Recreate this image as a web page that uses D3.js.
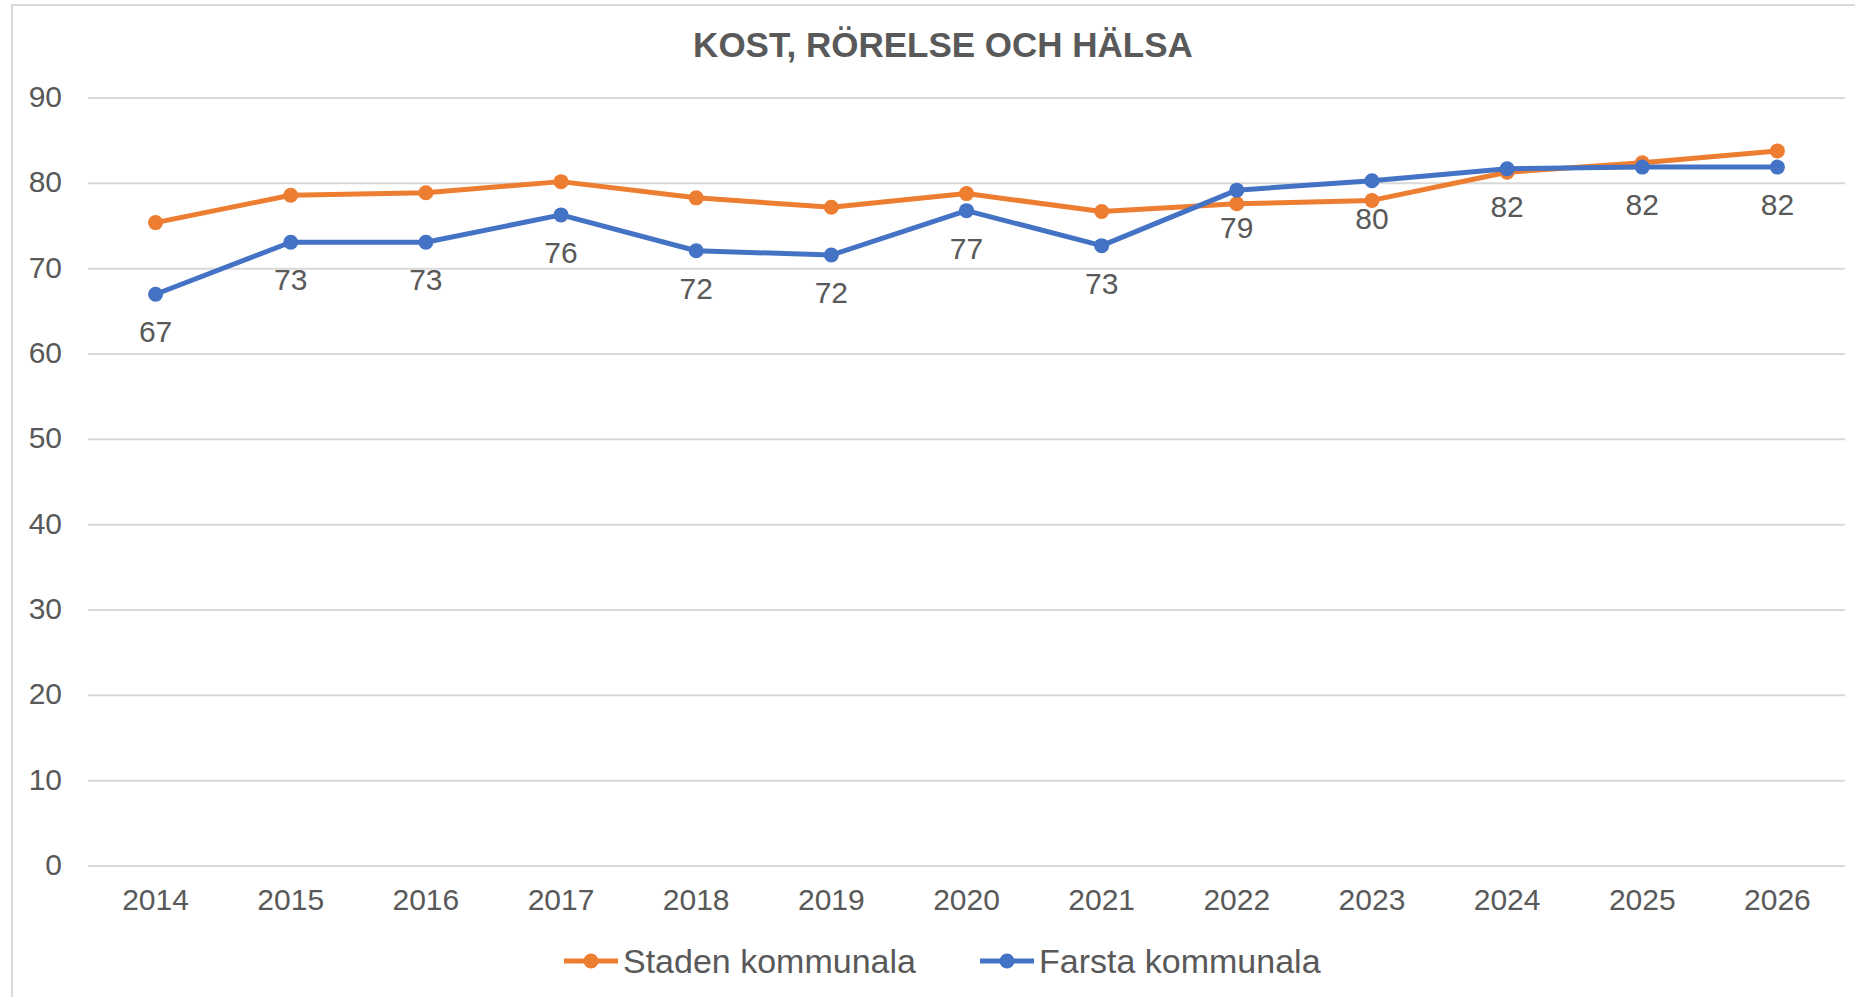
<!DOCTYPE html>
<html>
<head>
<meta charset="utf-8">
<script src="https://cdn.jsdelivr.net/npm/d3@7"></script>
<style>
  body { margin: 0; background: #fff; }
  text { font-family: "Liberation Sans", Arial, sans-serif; fill: #595959; }
</style>
</head>
<body>
<script>
// chart data
var years = ["2014", "2015", "2016", "2017", "2018", "2019", "2020", "2021", "2022", "2023", "2024", "2025", "2026"];
var staden = [75.4, 78.6, 78.9, 80.2, 78.3, 77.2, 78.8, 76.7, 77.6, 78.0, 81.3, 82.4, 83.8];
var farsta = [67.0, 73.1, 73.1, 76.3, 72.1, 71.6, 76.8, 72.7, 79.2, 80.3, 81.7, 81.9, 81.9];
var farstaLabels = ["67", "73", "73", "76", "72", "72", "77", "73", "79", "80", "82", "82", "82"];
var yTicks = [0, 10, 20, 30, 40, 50, 60, 70, 80, 90];
var seriesNames = ["Staden kommunala", "Farsta kommunala"];
var colors = ["#ED7D31", "#4472C4"];

var W = 1855, H = 997;

var svg = d3.select("body").append("svg")
  .attr("width", W)
  .attr("height", H)

// outer chart border
svg.append("rect")
  .attr("x", 12).attr("y", 5)
  .attr("width", W + 20).attr("height", H + 20)
  .attr("fill", "#fff")
  .attr("stroke", "#D9D9D9")
  .attr("stroke-width", 2)

var x = d3.scaleBand().domain(years).range([88, 1845])
var y = d3.scaleLinear().domain([0, 90]).range([866, 98])

// gridlines
svg.append("g").selectAll("line")
  .data(yTicks)
  .enter()
  .append("line")
  .attr("x1", 88).attr("x2", 1845)
  .attr("y1", function (d) { return y(d); })
  .attr("y2", function (d) { return y(d); })
  .attr("stroke", "#D9D9D9")
  .attr("stroke-width", 2)

// y axis labels
svg.append("g").selectAll("text")
  .data(yTicks)
  .enter()
  .append("text")
  .attr("x", 62)
  .attr("y", function (d) { return y(d) + 9; })
  .attr("text-anchor", "end")
  .attr("font-size", 30)
  .text(function (d) { return d; })

// x axis labels
svg.append("g").selectAll("text")
  .data(years)
  .enter()
  .append("text")
  .attr("x", function (d) { return x(d) + x.bandwidth() / 2; })
  .attr("y", 910)
  .attr("text-anchor", "middle")
  .attr("font-size", 30)
  .text(function (d) { return d; })

// title
svg.append("text")
  .attr("x", 943).attr("y", 57)
  .attr("text-anchor", "middle")
  .attr("font-size", 35)
  .attr("font-weight", "bold")
  .text("KOST, RÖRELSE OCH HÄLSA")

var line = d3.line()
  .x(function (d, i) { return x(years[i]) + x.bandwidth() / 2; })
  .y(function (d) { return y(d); })

var series = [staden, farsta];

series.forEach(function (vals, s) {
  svg.append("path")
    .datum(vals)
    .attr("d", line)
    .attr("fill", "none")
    .attr("stroke", colors[s])
    .attr("stroke-width", 5)
    .attr("stroke-linejoin", "round")

  svg.append("g").selectAll("circle")
    .data(vals)
    .enter()
    .append("circle")
    .attr("cx", function (d, i) { return x(years[i]) + x.bandwidth() / 2; })
    .attr("cy", function (d) { return y(d); })
    .attr("r", 7.5)
    .attr("fill", colors[s])
});

// data labels under the Farsta line
svg.append("g").selectAll("text")
  .data(farsta)
  .enter()
  .append("text")
  .attr("x", function (d, i) { return x(years[i]) + x.bandwidth() / 2; })
  .attr("y", function (d) { return y(d) + 48; })
  .attr("text-anchor", "middle")
  .attr("font-size", 30)
  .text(function (d, i) { return farstaLabels[i]; })

// legend
var legendX = [564, 980];
var legend = svg.append("g").selectAll("g")
  .data(seriesNames)
  .enter()
  .append("g")
  .attr("transform", function (d, i) { return "translate(" + legendX[i] + ",961)"; })

legend.append("line")
  .attr("x1", 0).attr("x2", 54)
  .attr("stroke", function (d, i) { return colors[i]; })
  .attr("stroke-width", 5)

legend.append("circle")
  .attr("cx", 27).attr("r", 7.5)
  .attr("fill", function (d, i) { return colors[i]; })

legend.append("text")
  .attr("x", 59).attr("y", 12)
  .attr("font-size", 34)
  .text(function (d) { return d; })
</script>
</body>
</html>
